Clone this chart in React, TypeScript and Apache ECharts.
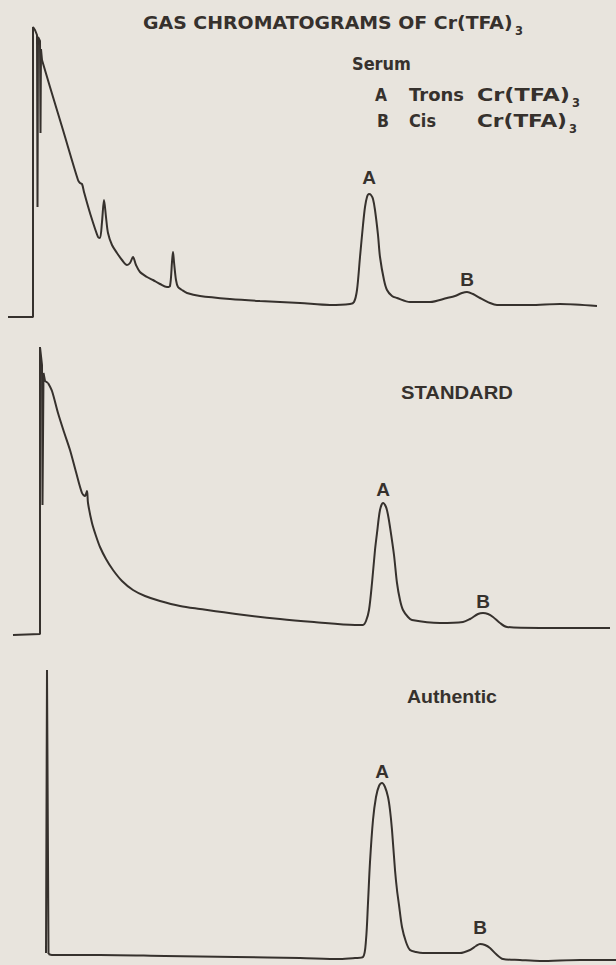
import React, { useEffect, useRef } from "react";
import * as echarts from "echarts";

// Retention position (chart units, left to right) and detector response (arbitrary units above each zero line)
const serumInjection: number[][] = [
  [8, 0], [33, 0], [33, 290], [35, 287], [37, 282], [37.5, 110], [38, 280], [40, 276], [40.5, 184], [41, 268], [42, 257],
];
const serumTrace: number[][] = [
  [42, 257], [50, 230], [63, 187], [78, 137], [80, 134], [82, 133], [84, 125], [90, 104], [98, 80], [100, 79],
  [102, 95], [104, 117], [106, 100], [108, 84], [112, 72], [117, 64], [122, 57], [127, 52], [130, 54], [133, 60],
  [136, 52], [140, 45], [147, 40], [153, 37], [160, 33], [167, 30], [170, 31], [172, 55], [173, 65], [174, 55],
  [176, 37], [178, 30], [182, 27], [187, 24], [200, 21], [230, 18], [260, 16], [300, 14], [330, 12], [350, 13],
  [354, 15], [357, 27], [360, 60], [363, 92], [365, 110], [367, 120], [369, 123], [371, 122], [373, 118], [375, 107],
  [378, 82], [380, 60], [384, 37], [387, 27], [392, 21], [397, 19], [410, 15], [430, 15], [447, 19], [455, 21],
  [462, 24], [467, 25], [473, 23], [480, 19], [490, 14], [497, 12], [530, 12], [560, 13], [597, 11],
];

const standardInjection: number[][] = [
  [13, 0], [40, 1], [40, 288], [42, 270], [42.5, 130], [43.5, 262], [45, 254], [48, 252],
];
const standardTrace: number[][] = [
  [48, 252], [52, 244], [58, 222], [64, 203], [70, 185], [76, 163], [82, 142], [85, 139], [87, 144], [88, 132],
  [92, 112], [96, 99], [100, 88], [106, 76], [113, 65], [122, 54], [133, 45], [145, 39], [160, 34], [180, 29],
  [200, 26], [236, 21], [280, 16], [314, 13], [355, 10], [363, 10], [366, 14], [369, 25], [372, 52], [375, 85],
  [377, 102], [380, 125], [383, 132], [386, 128], [388, 120], [390, 108], [394, 80], [397, 52], [400, 35], [403, 25],
  [408, 18], [412, 15], [440, 12], [463, 13], [470, 16], [478, 21], [483, 22], [488, 21], [493, 18], [500, 12],
  [507, 8], [540, 7], [580, 7], [610, 7],
];

const authenticInjection: number[][] = [
  [46, 9], [47, 292], [48.5, 8],
];
const authenticTrace: number[][] = [
  [48.5, 8], [52, 7], [100, 7], [165, 6], [235, 5], [300, 4], [340, 3], [355, 4], [363, 5], [366, 22],
  [368, 59], [370, 100], [373, 142], [376, 165], [379, 176], [382, 179], [385, 175], [388, 165], [390, 152], [392, 132],
  [395, 92], [397, 72], [399, 57], [402, 35], [406, 20], [410, 12], [416, 10], [423, 9], [440, 9], [460, 9],
  [470, 12], [476, 16], [480, 18], [485, 17], [490, 14], [496, 8], [503, 3], [520, 2], [540, 1], [580, 2], [616, 2],
];

// Peak windows (retention range where each labelled peak lies)
const peakNames = ["A", "B"];
const peakWindows = [[350, 420], [440, 520]];

const titleText = "GAS CHROMATOGRAMS OF Cr(TFA)";
const subscriptText = "3";
const serumLabel = "Serum";
const legendLetters = ["A", "B"];
const legendNames = ["Trons", "Cis"];
const legendCompound = "Cr(TFA)";
const panelNames = ["STANDARD", "Authentic"];

const BG = "#e8e4dd";
const INK = "#36312d";
const LETTERING = "'DejaVu Sans', sans-serif";
const BOLD_FACE = "'Liberation Sans', Arial, sans-serif";

function peakOf(trace: number[][], lo: number, hi: number) {
  let best = trace[0];
  for (const p of trace) if (p[0] >= lo && p[0] <= hi && (best[0] < lo || best[0] > hi || p[1] > best[1])) best = p;
  return best;
}

export default function App() {
  const ref = useRef<HTMLDivElement>(null);
  useEffect(() => {
    document.body.style.margin = "0";
    document.body.style.background = BG;
    const chart = echarts.init(ref.current!, null, { renderer: "svg" });
    const ctx = document.createElement("canvas").getContext("2d")!;

    const fit = (text: string, x0: number, x1: number, yc: number, size: number, weight: string, family: string) => {
      const font = `${weight} ${size}px ${family}`;
      ctx.font = font;
      const w = ctx.measureText(text).width || 1;
      return {
        type: "text",
        x: x0,
        y: yc,
        scaleX: (x1 - x0) / w,
        silent: true,
        style: {
          text, font, fill: INK,
          align: "left", verticalAlign: "middle",
          textAlign: "left", textVerticalAlign: "middle",
        },
      };
    };

    const grids = [
      { left: 0, width: 616, top: 17, height: 300 },
      { left: 0, width: 616, top: 335, height: 300 },
      { left: 0, width: 616, top: 662, height: 300 },
    ];
    const traces = [serumTrace, standardTrace, authenticTrace];
    const injections = [serumInjection, standardInjection, authenticInjection];
    const labelOffsets = [[-17, -13], [-14, -12], [-12, -17]];

    const series: any[] = [];
    traces.forEach((tr, i) => {
      series.push({
        type: "line", xAxisIndex: i, yAxisIndex: i, data: injections[i], showSymbol: false, symbol: "none",
        lineStyle: { color: INK, width: 2 }, silent: true,
      });
      series.push({
        type: "line", xAxisIndex: i, yAxisIndex: i, data: tr, showSymbol: false, symbol: "none", smooth: 0.3,
        lineStyle: { color: INK, width: 2 }, silent: true,
        markPoint: {
          symbol: "circle", symbolSize: 1, itemStyle: { color: "transparent" }, silent: true,
          label: { show: true, formatter: "{b}", position: "inside", color: INK, fontSize: 19, fontWeight: "bold", fontFamily: BOLD_FACE },
          data: peakNames.map((n, k) => ({
            name: n,
            coord: peakOf(tr, peakWindows[k][0], peakWindows[k][1]),
            label: { offset: [0, labelOffsets[i][k]] },
          })),
        },
      });
    });

    const graphic: any[] = [
      fit(titleText, 143, 513, 23, 17, "bold", LETTERING),
      fit(subscriptText, 515, 523, 31, 13, "bold", LETTERING),
      fit(serumLabel, 352, 411, 64, 17, "bold", LETTERING),
      fit(legendLetters[0], 375, 387, 95, 17, "bold", LETTERING),
      fit(legendNames[0], 409, 464, 95, 17, "bold", LETTERING),
      fit(legendCompound, 477, 570, 95, 17, "bold", LETTERING),
      fit(subscriptText, 572, 580, 103, 13, "bold", LETTERING),
      fit(legendLetters[1], 377, 389, 121, 17, "bold", LETTERING),
      fit(legendNames[1], 409, 436, 121, 17, "bold", LETTERING),
      fit(legendCompound, 477, 567, 121, 17, "bold", LETTERING),
      fit(subscriptText, 569, 577, 129, 13, "bold", LETTERING),
      fit(panelNames[0], 401, 513, 393, 18, "bold", BOLD_FACE),
      fit(panelNames[1], 407, 497, 697, 18, "bold", BOLD_FACE),
    ];

    chart.setOption({
      animation: false,
      backgroundColor: BG,
      grid: grids,
      xAxis: grids.map((_, i) => ({ type: "value", gridIndex: i, min: 0, max: 616, show: false })),
      yAxis: grids.map((_, i) => ({ type: "value", gridIndex: i, min: 0, max: 300, show: false })),
      series,
      graphic,
    });
    return () => chart.dispose();
  }, []);
  return <div ref={ref} style={{ width: 616, height: 965, background: BG }} />;
}
